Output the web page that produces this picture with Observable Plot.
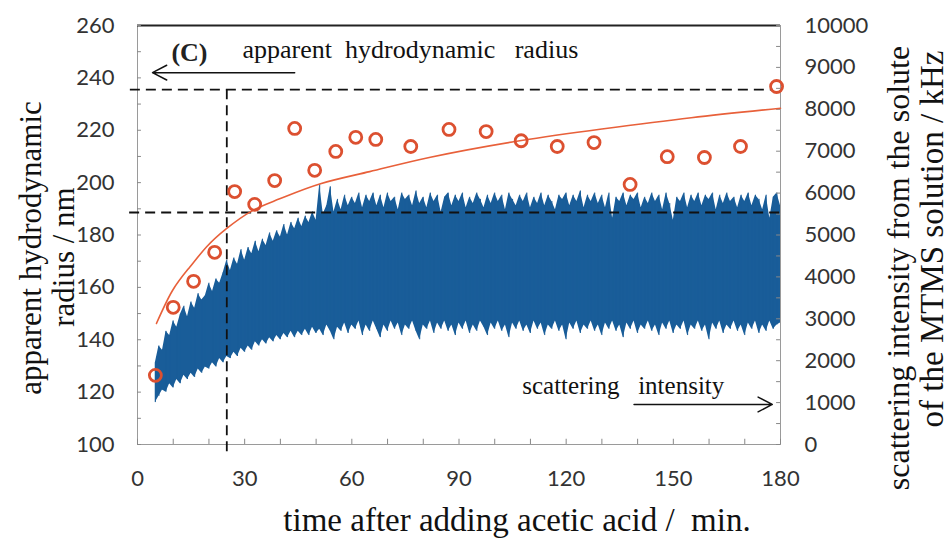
<!DOCTYPE html>
<html>
<head>
<meta charset="utf-8">
<script src="https://cdn.jsdelivr.net/npm/d3@7"></script>
<script src="https://cdn.jsdelivr.net/npm/@observablehq/plot@0.6"></script>
<style>
  html, body { margin: 0; padding: 0; background: #fff; }
  #chart { width: 949px; height: 538px; }
</style>
</head>
<body>
<div id="chart"></div>
<script>
// ---- data ----
// measured apparent hydrodynamic radius (nm) vs time (min)
const radiusTime = [5, 10, 15.7, 21.6, 27.2, 32.8, 38.4, 44, 49.6, 55.5, 61.1, 66.7, 76.5, 87.2, 97.6, 107.4, 117.5, 127.8, 137.9, 148.3, 158.7, 168.8, 178.9];
const radiusValue = [126.4, 152.4, 162.3, 173.4, 196.6, 191.7, 200.8, 220.7, 204.7, 211.9, 217.3, 216.5, 213.8, 220.3, 219.5, 216, 213.8, 215.3, 199.3, 209.9, 209.6, 213.8, 236.7];

// fitted curve for the radius
const fitTime  = [5.3, 9.8, 14.6, 19.3, 24.9, 32.3, 39.8, 51, 65, 82, 107, 130, 155, 180];
const fitValue = [146.2, 158.8, 167.7, 175.4, 182.4, 189.4, 193.8, 199.5, 204.2, 209.7, 216, 220.5, 224.8, 228.4];

// scattering intensity (kHz): lower and upper edges of the noisy trace, one per minute from 5 to 180 min
const traceTime = [5,6,7,8,9,10,11,12,13,14,15,16,17,18,19,20,21,22,23,24,25,26,27,28,29,30,31,32,33,34,35,36,37,38,39,40,41,42,43,44,45,46,47,48,49,50,51,52,53,54,55,56,57,58,59,60,61,62,63,64,65,66,67,68,69,70,71,72,73,74,75,76,77,78,79,80,81,82,83,84,85,86,87,88,89,90,91,92,93,94,95,96,97,98,99,100,101,102,103,104,105,106,107,108,109,110,111,112,113,114,115,116,117,118,119,120,121,122,123,124,125,126,127,128,129,130,131,132,133,134,135,136,137,138,139,140,141,142,143,144,145,146,147,148,149,150,151,152,153,154,155,156,157,158,159,160,161,162,163,164,165,166,167,168,169,170,171,172,173,174,175,176,177,178,179,180];
const traceUpper = [1950,2350,2250,2700,2600,2950,2800,3100,3300,3050,3400,3250,3600,3450,3550,3850,3650,3950,3850,4100,4400,4150,4450,4300,4650,4400,4700,4550,4850,4600,4900,4750,5050,4850,5100,4950,5250,5000,5300,5150,5400,5200,5450,5300,5550,5350,6200,5500,5700,6150,5550,5850,5600,5950,5700,5900,5750,6000,5650,5950,5800,6000,5700,5950,5650,6000,5800,5900,5600,6000,5850,5950,5700,6050,5750,5900,5650,6000,5800,5950,5550,5900,6000,5700,5950,5800,6000,5650,5900,5750,6000,5850,5650,5950,5750,6000,5800,5950,5600,6000,5850,5700,5950,5800,6000,5650,5900,5750,6000,5700,5950,5800,5600,5950,5850,6000,5700,5950,5800,6050,5650,5950,5800,6000,5750,5950,5650,6000,5400,5900,5800,6000,5700,5950,5850,6000,5650,5900,5750,6000,5800,5950,5600,6000,5750,5350,5900,5800,6000,5650,5950,5800,6000,5700,5950,5850,6000,5600,5950,5750,6000,5800,5900,5650,5950,5800,6000,5700,5950,5850,5600,5950,5400,5900,6000,5700];
const traceLower = [1000,1150,1300,1250,1450,1350,1550,1450,1650,1550,1700,1600,1800,1700,1850,1800,1950,1850,2050,1950,2100,2050,2200,2100,2300,2200,2350,2250,2450,2350,2500,2400,2550,2450,2600,2500,2650,2550,2700,2550,2700,2600,2750,2600,2800,2650,2750,2600,2850,2700,2500,2800,2700,2900,2650,2850,2750,2950,2600,2850,2700,2950,2750,2550,2850,2700,2950,2750,2900,2600,2850,2750,2950,2700,2500,2850,2750,2950,2650,2900,2750,2950,2700,2850,2600,2900,2750,2950,2650,2850,2700,2950,2800,2600,2900,2750,2950,2700,2850,2550,2900,2750,2950,2700,2850,2650,2950,2750,2900,2600,2850,2750,2950,2700,2850,2500,2900,2750,2950,2650,2850,2750,2950,2700,2850,2600,2900,2750,2950,2700,2850,2550,2900,2750,2950,2650,2850,2750,2950,2700,2850,2600,2900,2750,2950,2650,2850,2750,2950,2600,2850,2750,2950,2700,2850,2500,2900,2750,2950,2650,2850,2750,2950,2700,2850,2600,2900,2750,2950,2650,2850,2700,2950,2750,2850,2900];

// reference lines
const refRadiusHigh = 235.5;   // upper dashed line (nm)
const refRadiusLow = 188.6;    // lower dashed line (nm)
const refTime = 25;            // vertical dashed line (min)

// tick labels
const xTicks = [0, 30, 60, 90, 120, 150, 180];
const xMinorTicks = [0,10,20,30,40,50,60,70,80,90,100,110,120,130,140,150,160,170,180];
const yTicks = [100, 120, 140, 160, 180, 200, 220, 240, 260];
const yMinorTicks = [100,110,120,130,140,150,160,170,180,190,200,210,220,230,240,250,260];
const rightTicks = [0,1000,2000,3000,4000,5000,6000,7000,8000,9000,10000];
const rightMinorTicks = [0,500,1000,1500,2000,2500,3000,3500,4000,4500,5000,5500,6000,6500,7000,7500,8000,8500,9000,9500,10000];

// ---- build ----
const yMin = 100, yMax = 260, iMax = 10000;
const toLeft = (I) => yMin + I * (yMax - yMin) / iMax;

const circles = radiusTime.map((t, i) => ({t, r: radiusValue[i]}));
const fit = fitTime.map((t, i) => ({t, r: fitValue[i]}));
const trace = traceTime.map((t, i) => ({t, lo: toLeft(traceLower[i]), hi: toLeft(traceUpper[i])}));

const serif = "'Liberation Serif', 'DejaVu Serif', serif";
const red = "#dc5030";
const blue = "#195d99";

const chart = Plot.plot({
  width: 949,
  height: 538,
  marginLeft: 137,
  marginRight: 169,
  marginTop: 25,
  marginBottom: 94,
  style: {fontFamily: "Lato, 'Liberation Sans', sans-serif", fontSize: "22px", color: "#333", background: "#fff"},
  x: {domain: [0, 180], label: null},
  y: {domain: [yMin, yMax], label: null},
  marks: [
    // trace
    Plot.areaY(trace, {x: "t", y1: "lo", y2: "hi", fill: blue, curve: "linear"}),
    Plot.ruleX(trace, {x: "t", y1: "lo", y2: "hi", stroke: blue, strokeWidth: 1}),
    // frame
    Plot.frame({stroke: "#9a9a9a", strokeWidth: 1}),
    Plot.ruleY([yMax], {stroke: "#222", strokeWidth: 2}),
    // inward ticks
    Plot.ruleX(xMinorTicks, {x: d => d, y1: yMin, y2: yMin + 2, stroke: "#888"}),
    Plot.ruleY(yMinorTicks, {y: d => d, x1: 0, x2: 1.1, stroke: "#888"}),
    Plot.ruleY(rightMinorTicks.map(toLeft), {y: d => d, x1: 178.9, x2: 180, stroke: "#888"}),
    // axes
    Plot.axisX(xTicks, {label: null, tickSize: 0, tickPadding: 26, fontSize: 22}),
    Plot.axisY(yTicks, {label: null, anchor: "left", tickSize: 0, tickPadding: 23, fontSize: 22}),
    Plot.axisY(rightTicks.map(toLeft), {label: null, anchor: "right", tickSize: 0, tickPadding: 24, fontSize: 22,
      tickFormat: d => String(Math.round((d - yMin) * iMax / (yMax - yMin)))}),
    // dashed reference lines
    Plot.ruleY([refRadiusHigh], {x1: -2, x2: 178, stroke: "#111", strokeWidth: 1.8, strokeDasharray: "10,6"}),
    Plot.ruleY([refRadiusLow], {x1: -2.2, x2: 180, stroke: "#111", strokeWidth: 1.8, strokeDasharray: "10,6"}),
    Plot.ruleX([refTime], {y1: refRadiusHigh, y2: 95.8, stroke: "#111", strokeWidth: 1.8, strokeDasharray: "10,6"}),
    // fit line & points
    Plot.line(fit, {x: "t", y: "r", stroke: "#e8603a", strokeWidth: 1.6, curve: "natural"}),
    Plot.dot(circles, {x: "t", y: "r", r: 6, stroke: red, strokeWidth: 2.8, fill: "none"}),
    // annotations
    Plot.text(["(C)"], {x: 9.5, y: 249.7, text: d => d, textAnchor: "start", lineAnchor: "middle", fontFamily: serif, fontSize: 26, fontWeight: "bold", fill: "#222"}),
    Plot.text(["apparent  hydrodynamic   radius"], {x: 29.4, y: 250.8, text: d => d, textAnchor: "start", lineAnchor: "middle", fontFamily: serif, fontSize: 26, fill: "#111"}),
    Plot.arrow([0], {x1: 44, y1: 242, x2: 4.2, y2: 242, stroke: "#111", strokeWidth: 1.5, headLength: 16, headAngle: 55}),
    Plot.text(["scattering   intensity"], {x: 107.7, y: 122.5, text: d => d, textAnchor: "start", lineAnchor: "middle", fontFamily: serif, fontSize: 25, fill: "#111"}),
    Plot.arrow([0], {x1: 139, y1: 115.3, x2: 177.7, y2: 115.3, stroke: "#111", strokeWidth: 1.5, headLength: 16, headAngle: 55}),
    // axis titles
    Plot.text(["time after adding acetic acid /  min."], {frameAnchor: "bottom", dx: 58, dy: 76, text: d => d, textAnchor: "middle", lineAnchor: "middle", fontFamily: serif, fontSize: 33, fill: "#111"}),
    Plot.text(["apparent hydrodynamic"], {frameAnchor: "left", dx: -106, dy: 13, rotate: -90, text: d => d, textAnchor: "middle", lineAnchor: "middle", fontFamily: serif, fontSize: 31, fill: "#111"}),
    Plot.text(["radius / nm"], {frameAnchor: "left", dx: -73, dy: 22, rotate: -90, text: d => d, textAnchor: "middle", lineAnchor: "middle", fontFamily: serif, fontSize: 31, fill: "#111"}),
    Plot.text(["scattering intensity from the solute"], {frameAnchor: "right", dx: 118, dy: 33, rotate: -90, text: d => d, textAnchor: "middle", lineAnchor: "middle", fontFamily: serif, fontSize: 32, fill: "#111"}),
    Plot.text(["of the MTMS solution / kHz"], {frameAnchor: "right", dx: 152, dy: 4, rotate: -90, text: d => d, textAnchor: "middle", lineAnchor: "middle", fontFamily: serif, fontSize: 33, fill: "#111"})
  ]
});
document.getElementById("chart").appendChild(chart);
</script>
</body>
</html>
